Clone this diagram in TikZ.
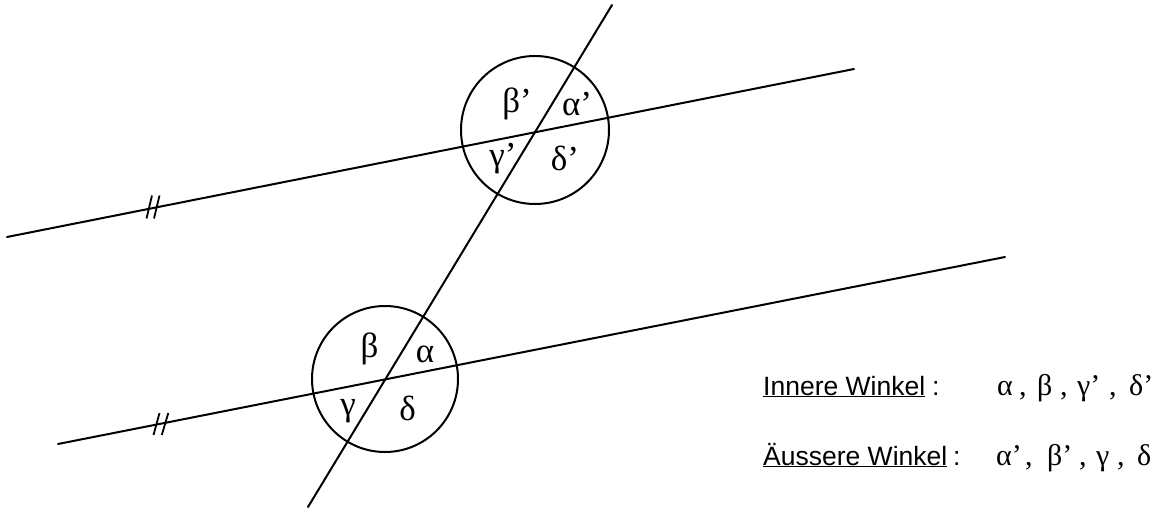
\documentclass[tikz,border=0pt]{standalone}
\usepackage{fontspec}
\setmainfont{Liberation Serif}
\newfontfamily\legendsans{Liberation Sans}
\begin{document}
\begin{tikzpicture}[x=1pt,y=-1pt,
  geo/.style={line width=2pt, line cap=round},
  lbl/.style={anchor=base, inner sep=0pt, font=\fontsize{35}{40}\selectfont},
  leg/.style={anchor=base west, inner sep=0pt, font=\legendsans\fontsize{26.5}{32}\selectfont},
  lgr/.style={anchor=base west, inner sep=0pt, font=\fontsize{30}{36}\selectfont},
  hashmark/.style={line width=1.8pt}]
\useasboundingbox (0,0) rectangle (1157,509);
% lines
\coordinate (u1) at (7,237);
\coordinate (u2) at (854,69);
\coordinate (l1) at (58,444);
\coordinate (l2) at (1005,257);
\coordinate (t1) at (612,5);
\coordinate (t2) at (308,507);
\draw[geo] (u1) -- (u2);
\draw[geo] (l1) -- (l2);
\draw[geo] (t1) -- (t2);
% circles
\coordinate (cu) at (535,130);
\coordinate (cl) at (385,379);
\draw[geo] (cu) circle[radius=74pt];
\draw[geo] (cl) circle[radius=73pt];
% hash marks
\coordinate (h1) at (153,207);
\coordinate (h2) at (161,424);
\draw[hashmark] ([shift={(-6.5,11.5)}]h1) -- ++(5.5,-23);
\draw[hashmark] ([shift={(1,11.5)}]h1) -- ++(5.5,-23);
\draw[hashmark] ([shift={(-7.5,11)}]h2) -- ++(6,-22);
\draw[hashmark] ([shift={(0.8,11)}]h2) -- ++(6.5,-22);
% upper labels
\node[lbl] (bu) at (517,112) {β’};
\node[lbl] (au) at (577,115) {α’};
\node[lbl] (gu) at (503,166) {γ’};
\node[lbl] (du) at (565,170) {δ’};
% lower labels
\node[lbl] (bl) at (369.5,357) {β};
\node[lbl] (al) at (425,362) {α};
\node[lbl] (gl) at (348,415) {γ};
\node[lbl] (dl) at (407.5,420) {δ};
% legend
\node[leg] (in) at (763,395) {\underline{Innere Winkel}};
\node[leg] (inc) at (932,395) {:};
\node[lgr] (i1) at (997,395) {α};
\node[lgr] (i1c) at (1019,395) {,};
\node[lgr] (i2) at (1037,395) {β};
\node[lgr] (i2c) at (1060,395) {,};
\node[lgr] (i3) at (1077,395) {γ’};
\node[lgr] (i3c) at (1109,395) {,};
\node[lgr] (i4) at (1129,395) {δ’};
\node[leg] (au2) at (763,465) {\underline{Äussere Winkel}};
\node[leg] (auc) at (953,465) {:};
\node[lgr] (e1) at (996,465) {α’};
\node[lgr] (e1c) at (1025,465) {,};
\node[lgr] (e2) at (1047,465) {β’};
\node[lgr] (e2c) at (1079,465) {,};
\node[lgr] (e3) at (1096,465) {γ};
\node[lgr] (e3c) at (1117,465) {,};
\node[lgr] (e4) at (1137,465) {δ};
\end{tikzpicture}
\end{document}
